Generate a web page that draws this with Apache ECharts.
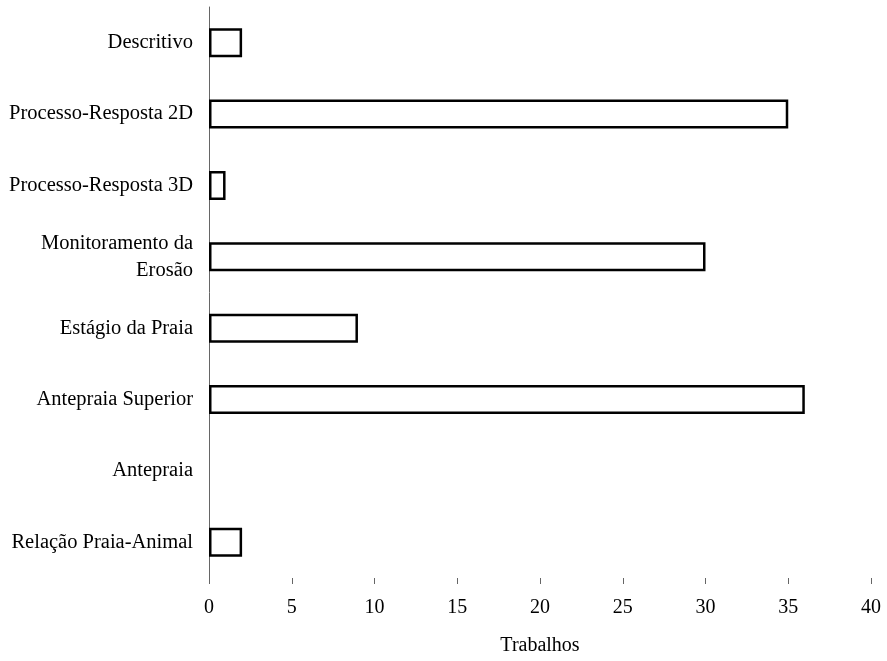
<!DOCTYPE html>
<html>
<head>
<meta charset="utf-8">
<script src="https://cdn.jsdelivr.net/npm/echarts@6/dist/echarts.min.js"></script>
<style>
  html, body { margin: 0; padding: 0; background: #fff; }
  #chart { width: 887px; height: 661px; }
</style>
</head>
<body>
<div id="chart"></div>
<script>
const categorias = ['Descritivo', 'Processo-Resposta 2D', 'Processo-Resposta 3D', 'Monitoramento da Erosão', 'Estágio da Praia', 'Antepraia Superior', 'Antepraia', 'Relação Praia-Animal']
const trabalhos = [2, 35, 1, 30, 9, 36, 0, 2]
const xTicks = [0, 5, 10, 15, 20, 25, 30, 35, 40]

const chart = echarts.init(document.getElementById('chart'))
const fonte = '"Liberation Serif", "Times New Roman", serif'

// barras com valor 0 nao desenham borda (como no original)
const dadosBarras = trabalhos.map(v => v === 0
  ? { value: v, itemStyle: { borderWidth: 0 } }
  : v)

let option = {
  backgroundColor: '#fff',
  animation: false,
  grid: { left: 209, right: 16, top: 7, bottom: 79 },
  xAxis: {
    type: 'value',
    min: xTicks[0],
    max: xTicks[xTicks.length - 1],
    interval: 5,
    name: 'Trabalhos',
    nameLocation: 'middle',
    nameGap: 58,
    nameTextStyle: { color: '#000', fontFamily: fonte, fontSize: 20 },
    splitLine: { show: false },
    axisLine: { lineStyle: { color: '#666', width: 1 } },
    axisTick: { show: true, length: 6, lineStyle: { color: '#666' } },
    axisLabel: { color: '#000', fontFamily: fonte, fontSize: 20, margin: 20 }
  },
  yAxis: {
    type: 'category',
    inverse: true,
    data: categorias,
    axisLine: { lineStyle: { color: '#666', width: 1 } },
    axisTick: { show: false },
    axisLabel: {
      color: '#000',
      fontFamily: fonte,
      fontSize: 20.5,
      margin: 16,
      lineHeight: 27,
      align: 'right',
      formatter: (v) => v.replace('Monitoramento da ', 'Monitoramento da\n')
    }
  },
  series: [{
    type: 'bar',
    data: dadosBarras,
    barWidth: 29,
    itemStyle: { color: '#fff', borderColor: '#000', borderWidth: 2.5 }
  }]
}

chart.setOption(option)
</script>
</body>
</html>
